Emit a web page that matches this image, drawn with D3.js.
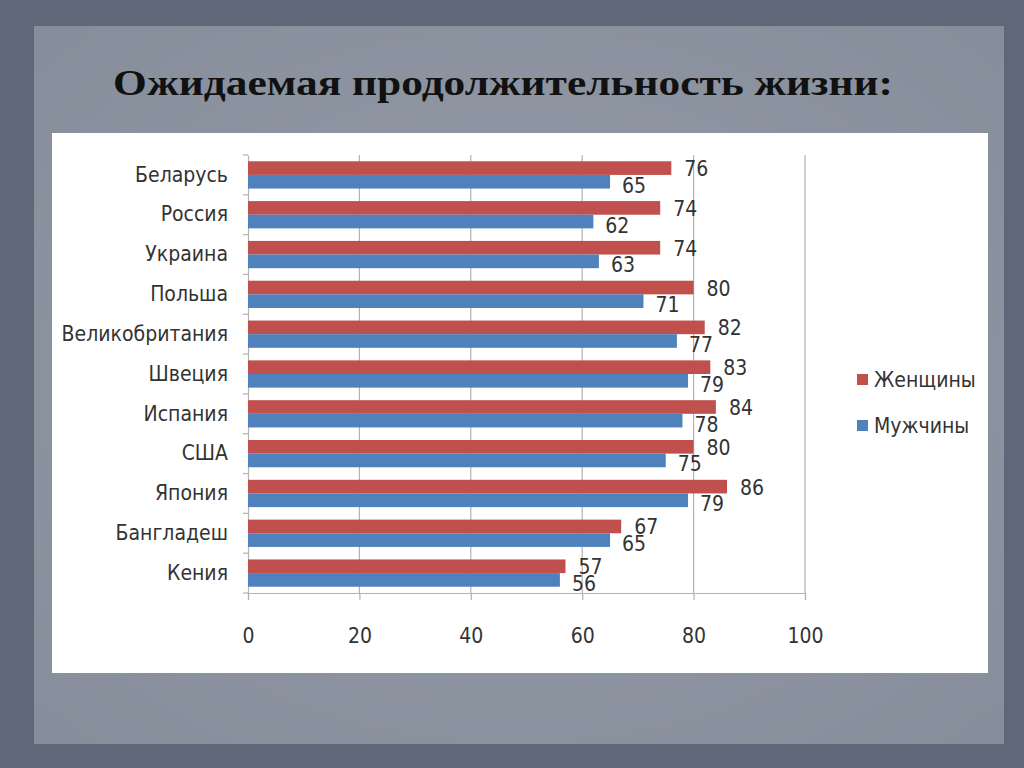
<!DOCTYPE html>
<html><head><meta charset="utf-8">
<script src="https://cdn.jsdelivr.net/npm/d3@7"></script>
<style>
html,body{margin:0;padding:0;background:#5e6879;}
svg{display:block;}
</style></head>
<body>
<svg id="c" width="1024" height="768"></svg>
<script>
const title = "Ожидаемая продолжительность жизни:";
const countries = ["Беларусь","Россия","Украина","Польша","Великобритания","Швеция","Испания","США","Япония","Бангладеш","Кения"];
const women = [76,74,74,80,82,83,84,80,86,67,57];
const men   = [65,62,63,71,77,79,78,75,79,65,56];
const seriesNames = ["Женщины","Мужчины"];
const seriesColors = ["#C0504D","#4F81BD"];
const xTicks = [0,20,40,60,80,100];

const svg = d3.select("#c");
const defs = svg.append("defs");
const grad = defs.append("radialGradient").attr("id","pg").attr("cx","50%").attr("cy","50%").attr("r","70%");
grad.append("stop").attr("offset","0%").attr("stop-color","#959ca8");
grad.append("stop").attr("offset","100%").attr("stop-color","#878e9b");

// background
svg.append("rect").attr("width",1024).attr("height",768).attr("fill","#5e6879");
svg.append("rect").attr("x",34).attr("y",26).attr("width",970).attr("height",718).attr("fill","url(#pg)");

// title
svg.append("text").attr("x",503).attr("y",95).attr("text-anchor","middle")
  .attr("font-family","'Liberation Serif','DejaVu Serif',serif").attr("font-weight","bold")
  .attr("font-size",36).attr("fill","#111")
  .attr("textLength",780).attr("lengthAdjust","spacingAndGlyphs")
  .text(title);

// white panel
svg.append("rect").attr("x",52).attr("y",133).attr("width",936).attr("height",540).attr("fill","#fff");

const font = "'Liberation Sans Narrow','DejaVu Sans Condensed','Roboto Condensed',Roboto,sans-serif";
const x = d3.scaleLinear().domain([0,100]).range([248,805]);
const y = d3.scaleBand().domain(countries).range([155,593]).paddingInner(0).paddingOuter(0);
const sub = d3.scaleBand().domain(seriesNames).range([0,y.bandwidth()]).paddingInner(0).paddingOuter(0.46);

const g = svg.append("g");
// gridlines
g.selectAll("line.grid").data(xTicks.slice(1)).enter().append("line")
  .attr("x1",d=>x(d)).attr("x2",d=>x(d)).attr("y1",155).attr("y2",593)
  .attr("stroke","#b3b3b3").attr("stroke-width",1.2);

// x axis
const xa = g.append("g").attr("transform","translate(0,593)")
  .call(d3.axisBottom(x).tickValues(xTicks).tickSize(7).tickPadding(28).tickFormat(d3.format("d")));
xa.select(".domain").attr("stroke","#b3b3b3").attr("stroke-width",1.2);
xa.selectAll(".tick line").attr("stroke","#b3b3b3").attr("stroke-width",1.2);
xa.selectAll(".tick text").attr("font-family",font).attr("font-size",21).attr("fill","#333");

// y axis
const ya = g.append("g").attr("transform","translate(248,0)")
  .call(d3.axisLeft(y).tickSize(0).tickPadding(20));
ya.select(".domain").attr("stroke","#b3b3b3").attr("stroke-width",1.2);
ya.selectAll(".tick text").attr("font-family",font).attr("font-size",21).attr("fill","#333");
// band boundary ticks
g.selectAll("line.yt").data(countries.map(c=>y(c)).concat([y.range()[1]])).enter().append("line")
  .attr("x1",243).attr("x2",248).attr("y1",d=>d).attr("y2",d=>d)
  .attr("stroke","#b3b3b3").attr("stroke-width",1.2);

const data = countries.map((c,i)=>({c, vals:[women[i],men[i]]}));
const groups = g.selectAll("g.cat").data(data).enter().append("g")
  .attr("transform",d=>`translate(0,${y(d.c)})`);
groups.selectAll("rect").data(d=>d.vals.map((v,j)=>({v,j}))).enter().append("rect")
  .attr("x",x(0)).attr("y",d=>sub(seriesNames[d.j]))
  .attr("width",d=>x(d.v)-x(0)).attr("height",sub.bandwidth())
  .attr("fill",d=>seriesColors[d.j]);
groups.selectAll("text").data(d=>d.vals.map((v,j)=>({v,j}))).enter().append("text")
  .attr("x",d=>x(d.v)+(d.j===0?13:12))
  .attr("y",d=>sub(seriesNames[d.j])+sub.bandwidth()/2+(d.j===0?1:4))
  .attr("dominant-baseline","central")
  .attr("font-family",font).attr("font-size",21).attr("fill","#333")
  .text(d=>d.v);

// legend
const lg = svg.append("g");
seriesNames.forEach((s,i)=>{
  const ly = 380 + i*46;
  lg.append("rect").attr("x",857).attr("y",ly-6).attr("width",11).attr("height",11).attr("fill",seriesColors[i]);
  lg.append("text").attr("x",874).attr("y",ly).attr("dominant-baseline","central")
    .attr("font-family",font).attr("font-size",21).attr("fill","#333").text(s);
});
</script>
</body></html>
